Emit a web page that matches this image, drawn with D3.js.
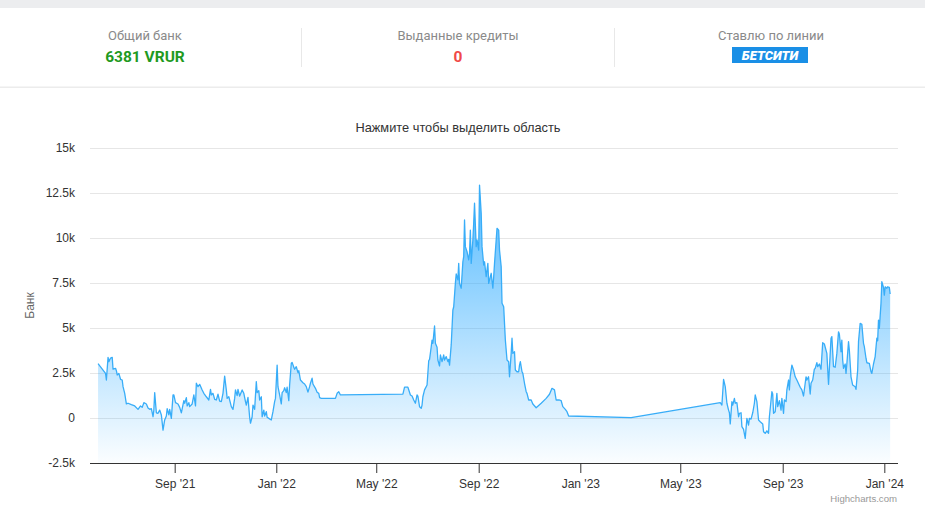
<!DOCTYPE html>
<html><head><meta charset="utf-8">
<script src="https://cdn.jsdelivr.net/npm/d3@7"></script>
<style>
body{margin:0;background:#fff;}
svg{display:block;}
</style>
</head><body><div id="chart"></div>
<script>
// ---- data ----
const startDate = "2021-06-01";
// days since startDate
const dayOffsets = [
0,9,10,12,13,15,17,18,21,22,
23,25,27,29,30,32,34,36,40,44,
48,51,53,55,58,60,62,64,66,67,
68,70,72,74,76,78,80,82,83,85,
86,88,90,91,93,96,98,100,103,104,
106,107,109,110,113,115,117,118,120,122,
125,127,130,133,135,136,138,140,142,144,
146,148,150,152,154,155,157,160,162,164,
165,167,168,170,173,175,177,178,180,182,
183,185,186,188,190,191,193,194,196,197,
199,200,202,203,205,208,210,212,213,215,
216,218,220,221,223,224,226,227,229,230,
232,233,235,236,238,240,241,243,246,248,
250,252,254,255,257,258,261,263,265,266,
268,285,287,289,291,366,368,372,375,377,
379,381,383,384,386,388,389,390,392,395,
397,398,400,401,402,404,405,407,408,410,
411,413,415,416,418,420,421,422,424,426,
427,429,430,432,433,434,436,438,439,440,
441,443,445,446,447,448,450,451,452,454,
455,457,458,460,461,463,464,466,468,469,
471,472,474,475,476,478,479,481,482,484,
485,487,489,491,493,494,496,497,498,500,
501,503,505,506,507,509,510,512,514,515,
517,520,522,526,532,538,542,545,548,550,
554,556,558,561,563,565,640,747,749,751,
753,755,757,758,759,761,762,764,765,767,
769,770,772,773,775,777,779,781,782,784,
786,788,789,791,793,795,798,799,801,803,
805,806,809,810,811,813,815,816,818,820,
821,823,824,826,827,829,830,831,833,835,
837,839,843,845,847,850,851,853,855,856,
858,860,861,863,864,866,868,870,872,875,
877,880,881,883,885,887,889,890,892,893,
894,895,897,898,899,901,902,904,906,909,
910,912,913,915,917,919,920,922,923,926,
928,929,931,933,935,936,937,938,940,941,
943,944,945,947,948,950,951];
const bankValues = [
3020,2480,2110,3370,3130,3330,3370,2710,2760,2630,
2390,2480,2150,2110,1740,1370,780,820,740,670,
480,670,590,850,780,560,480,520,70,440,
1410,290,260,440,170,-670,-110,110,520,170,
480,-20,1280,1280,850,780,590,290,960,820,
1130,670,850,630,780,1280,670,1930,1740,1870,
1560,1370,1180,1000,1590,1280,1370,1040,1000,1320,
940,910,1370,2330,1560,1090,1180,630,480,1090,
1560,1240,1590,1220,1560,1370,910,720,1150,40,
-290,70,720,480,2020,1410,1520,1000,1180,70,
440,110,350,40,-20,-110,350,910,1090,2940,
1740,1280,780,1410,1520,1680,1410,1710,960,1830,
3040,3090,2820,2710,2850,2520,2630,2110,1960,1890,
1740,1440,1740,1930,2210,1890,1650,1430,1370,1130,
1090,1090,1370,1460,1280,1330,1710,1710,1280,1220,
1000,820,1280,1220,630,540,720,1180,1560,1830,
3180,3260,3960,4330,4150,5110,4150,3930,3220,2890,
3500,3130,3500,3220,3410,3130,3260,2940,4060,6000,
6180,7480,8000,7670,8590,7480,7210,8680,8960,11000,
9520,9240,8780,9150,10440,8590,9890,10820,11930,9520,
9890,9330,12940,11370,9520,8500,8680,7850,8590,7480,
7850,8040,7210,7850,8590,9890,10540,10440,9330,8410,
6370,6180,4330,3220,3130,2290,3590,4430,3590,3680,
2670,2570,2570,2940,3130,2570,2480,1930,1460,1370,
1000,1000,780,570,820,1090,1320,1650,1560,1000,
1000,960,630,480,350,110,20,850,720,2150,
1740,820,440,290,-330,910,720,1090,820,850,
70,260,290,-480,-630,-1130,-20,-390,-20,-60,
290,820,1280,910,-110,-210,-330,-760,-850,-710,
-850,70,1460,1330,260,350,1370,630,960,440,
1090,260,1000,910,1560,2110,1560,2290,2940,2670,
2290,2110,1710,1560,1220,2290,2110,2290,1330,1930,
2110,2710,2760,3070,2850,3000,2710,4180,4110,3590,
1870,4430,4520,2850,2820,3590,4790,4670,3680,4330,
3220,2760,3000,2480,3000,4240,3780,2290,1830,1740,
1590,2670,4240,5260,5210,4150,3960,3320,3070,3040,
2570,2480,3000,3410,4430,4290,5440,4980,6370,7570,
7260,6830,7290,7210,7290,7260,6890];
const yTicks = [-2500,0,2500,5000,7500,10000,12500,15000];
const yTickLabels = ["-2.5k","0","2.5k","5k","7.5k","10k","12.5k","15k"];
const xDomain = ["2021-05-22T08:00:00Z","2024-01-17T10:00:00Z"];
const chartTitle = "Нажмите чтобы выделить область";
const yAxisTitle = "Банк";
const creditsText = "Highcharts.com";
const headerLabels = ["Общий банк","Выданные кредиты","Ставлю по линии"];
const headerValues = ["6381 VRUR","0"];
const bookmakerName = "БЕТСИТИ";

// ---- drawing ----
const W = 925, H = 520;
const svg = d3.select("#chart").append("svg").attr("width", W).attr("height", H);
const chartFont = '"Liberation Sans", Arial, sans-serif';
const headFont = 'Roboto, "Noto Sans", Arial, sans-serif';

svg.append("rect").attr("width", W).attr("height", H).attr("fill", "#fff");
svg.append("rect").attr("width", W).attr("height", 8).attr("fill", "#ecedef");
svg.append("rect").attr("x", 0).attr("y", 86.5).attr("width", W).attr("height", 1.5).attr("fill", "#ececec");

// header
const colX = [145, 458, 771];
headerLabels.forEach((t, i) => {
  svg.append("text").attr("x", colX[i]).attr("y", 40).attr("text-anchor", "middle")
    .attr("font-family", headFont).attr("font-size", 13).attr("fill", "#8a8a8a").text(t);
});
svg.append("text").attr("x", colX[0]).attr("y", 61.5).attr("text-anchor", "middle")
  .attr("font-family", headFont).attr("font-size", 15.5).attr("font-weight", "bold")
  .attr("fill", "#1f9a1f").text(headerValues[0]);
svg.append("text").attr("x", colX[1]).attr("y", 61.5).attr("text-anchor", "middle")
  .attr("font-family", headFont).attr("font-size", 15.5).attr("font-weight", "bold")
  .attr("fill", "#f04848").text(headerValues[1]);
[301.5, 614.5].forEach(xx => {
  svg.append("line").attr("x1", xx).attr("x2", xx).attr("y1", 28).attr("y2", 67)
    .attr("stroke", "#e8e8e8").attr("stroke-width", 1);
});
svg.append("rect").attr("x", 732).attr("y", 47).attr("width", 76).attr("height", 16).attr("fill", "#1a8fe6");
svg.append("text").attr("x", 770).attr("y", 60).attr("text-anchor", "middle")
  .attr("font-family", headFont).attr("font-size", 13).attr("font-weight", 900)
  .attr("font-style", "italic").attr("fill", "#fff").text(bookmakerName);

// chart
const plotLeft = 90, plotRight = 898, plotTop = 148, plotBottom = 463;
const x = d3.scaleUtc().domain(xDomain.map(s => new Date(s))).range([plotLeft, plotRight]);
const y = d3.scaleLinear().domain([-2500, 15000]).range([plotBottom, plotTop]);
const start = new Date(startDate + "T00:00:00Z");
const data = dayOffsets.map((d, i) => ({ date: d3.utcDay.offset(start, d), value: bankValues[i] }));

// title
svg.append("text").attr("x", 458).attr("y", 132).attr("text-anchor", "middle")
  .attr("font-family", chartFont).attr("font-size", 12.8).attr("fill", "#333").text(chartTitle);

// gridlines
svg.append("g").selectAll("line").data(yTicks.filter(v => v > -2500)).join("line")
  .attr("x1", plotLeft).attr("x2", plotRight)
  .attr("y1", d => Math.round(y(d)) + 0.5).attr("y2", d => Math.round(y(d)) + 0.5)
  .attr("stroke", "#e6e6e6").attr("stroke-width", 1);

// y labels
svg.append("g").selectAll("text").data(yTicks).join("text")
  .attr("x", 75).attr("y", d => y(d) + 4).attr("text-anchor", "end")
  .attr("font-family", chartFont).attr("font-size", 12).attr("fill", "#333")
  .text((d, i) => yTickLabels[i]);

svg.append("text").attr("transform", `translate(34,${(plotTop + plotBottom) / 2}) rotate(-90)`)
  .attr("text-anchor", "middle").attr("font-family", chartFont).attr("font-size", 12)
  .attr("fill", "#666").text(yAxisTitle);

// gradient
const maxV = d3.max(bankValues);
const defs = svg.append("defs");
const grad = defs.append("linearGradient").attr("id", "areaGrad")
  .attr("gradientUnits", "userSpaceOnUse")
  .attr("x1", 0).attr("x2", 0).attr("y1", y(maxV)).attr("y2", plotBottom);
grad.append("stop").attr("offset", 0).attr("stop-color", "#2aa9ff").attr("stop-opacity", 0.8);
grad.append("stop").attr("offset", 1).attr("stop-color", "#2aa9ff").attr("stop-opacity", 0.02);

const area = d3.area().x(d => x(d.date)).y0(plotBottom).y1(d => y(d.value));
const line = d3.line().x(d => x(d.date)).y(d => y(d.value));
svg.append("path").datum(data).attr("d", area).attr("fill", "url(#areaGrad)");
svg.append("path").datum(data).attr("d", line).attr("fill", "none")
  .attr("stroke", "#38adf8").attr("stroke-width", 1.3).attr("stroke-linejoin", "round");

// x axis
const xAxis = d3.axisBottom(x).ticks(d3.utcMonth.every(4)).tickFormat(d3.utcFormat("%b '%y"))
  .tickSizeOuter(0).tickSizeInner(10).tickPadding(6);
const gx = svg.append("g").attr("transform", `translate(0,${plotBottom})`).call(xAxis);
gx.select(".domain").attr("stroke", "#333").attr("d", `M${plotLeft},0.5H${plotRight}`);
gx.selectAll(".tick line").attr("stroke", "#333");
gx.selectAll(".tick text").attr("font-family", chartFont).attr("font-size", 12).attr("fill", "#333")
  .attr("dy", "0.71em");

// credits
svg.append("text").attr("x", 897).attr("y", 502).attr("text-anchor", "end")
  .attr("font-family", chartFont).attr("font-size", 9.6).attr("fill", "#999").text(creditsText);
</script>
</body></html>
